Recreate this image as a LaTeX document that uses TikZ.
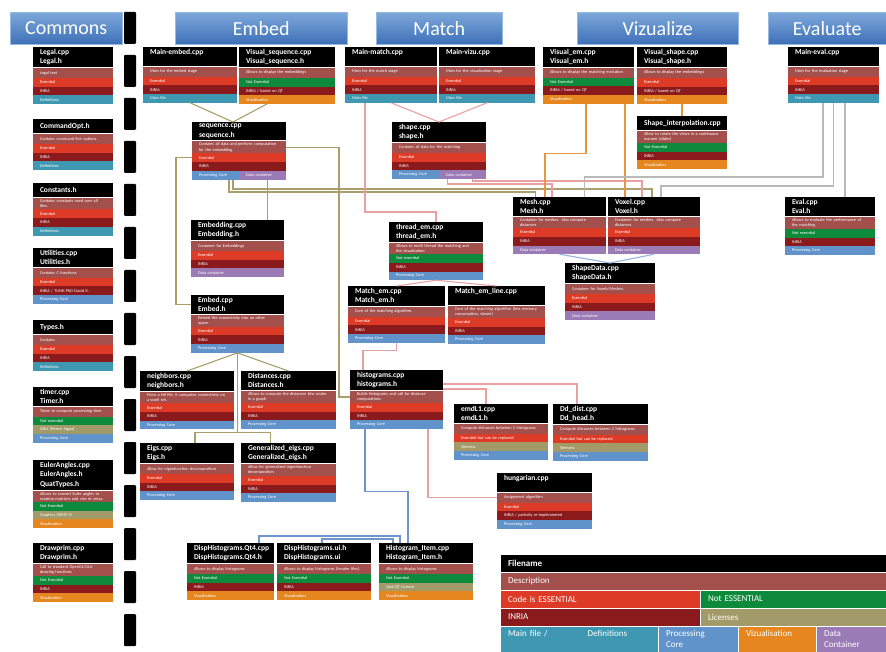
\documentclass[tikz,border=0pt]{standalone}
\usepackage{fontspec}
\setmainfont{Carlito}
\hyphenpenalty=10000
\exhyphenpenalty=10000

\definecolor{cdesc}{RGB}{163,80,77}
\definecolor{cess}{RGB}{222,59,38}
\definecolor{cnot}{RGB}{14,138,60}
\definecolor{cinria}{RGB}{138,26,28}
\definecolor{clic}{RGB}{162,154,104}
\definecolor{cmain}{RGB}{63,152,178}
\definecolor{ccore}{RGB}{97,147,203}
\definecolor{cviz}{RGB}{229,134,30}
\definecolor{cdata}{RGB}{155,123,182}
\definecolor{wembed}{RGB}{170,158,108}
\definecolor{wmatch}{RGB}{232,160,160}
\definecolor{wviz}{RGB}{232,150,70}
\definecolor{weval}{RGB}{185,185,185}
\definecolor{wshape}{RGB}{150,180,225}
\definecolor{whist}{RGB}{110,150,205}

\tikzset{
  banner/.style={anchor=north west, top color={rgb,255:red,125;green,168;blue,218},
    bottom color={rgb,255:red,62;green,112;blue,184}, draw={rgb,255:red,150;green,185;blue,225},
    text=white, font=\fontsize{20}{24}\selectfont, minimum height=32pt, inner sep=0pt},
  filehead/.style={anchor=north west, fill=black, text=white, align=left,
    font=\fontsize{7.5}{9.8}\selectfont\bfseries, inner xsep=7pt, inner ysep=1.8pt,
    minimum height=14pt, outer sep=0pt},
  filedesc/.style={anchor=north west, fill=cdesc, text=white, align=left,
    font=\fontsize{4.3}{5.2}\selectfont, inner xsep=7pt, inner ysep=1.6pt,
    minimum height=10pt, outer sep=0pt},
  filerow/.style={anchor=north west, text=white, align=left,
    font=\fontsize{4.3}{5.2}\selectfont, inner xsep=7pt, inner ysep=0pt,
    minimum height=8.7pt, outer sep=0pt},
  legcell/.style={anchor=north west, text=white, align=left, draw=white, line width=0.6pt,
    font=\fontsize{9}{11}\selectfont, inner xsep=8pt, inner ysep=3pt, outer sep=0pt},
  wire/.style={draw=#1, line width=1.1pt}
}

% one source file: name, x, y, width, header, description, rows
\newcommand{\srcfile}[7]{%
  \pgfmathsetlengthmacro{\tw}{#4pt-14pt}%
  \node[filehead, text width=\tw] (#1) at (#2,#3) {#5};
  \node[filedesc, text width=\tw] (#1-0) at ([yshift=-1pt]#1.south west) {#6};
  \foreach \rowc/\rowt [count=\rowno, remember=\rowno as \prevno (initially 0)] in {#7}
    \node[filerow, fill=\rowc, text width=\tw] (#1-\rowno) at (#1-\prevno.south west) {\rowt};
}

\begin{document}
\begin{tikzpicture}[x=1pt, y=-1pt]
  \fill[white] (0,0) rectangle (886,652);
  \useasboundingbox (0,0) rectangle (886,652);

  % stage banners
  \node[banner, minimum width=112pt] (bcommons) at (10,12) {Commons};
  \node[banner, minimum width=172pt] (bembed) at (175,12) {Embed};
  \node[banner, minimum width=126pt] (bmatch) at (376,12) {Match};
  \node[banner, minimum width=161pt] (bviz) at (577,12) {Vizualize};
  \node[banner, minimum width=118pt] (beval) at (768,12) {Evaluate};
  \foreach \k in {0,...,14}
    \fill[rounded corners=1pt] (124,{12+43*\k}) rectangle ++(12,32);

  % commons
  \srcfile{legal}{33}{47}{80}{Legal.cpp\\Legal.h}{Legal text}{cess/Essential, cinria/INRIA, cmain/Definitions}
  \srcfile{cmdopt}{33}{119}{80}{CommandOpt.h}{Contains command line options.}{cess/Essential, cinria/INRIA, cmain/Definitions}
  \srcfile{consts}{33}{183}{80}{Constants.h}{Contains constants used over all files.}{cess/Essential, cinria/INRIA, cmain/Definitions}
  \srcfile{utils}{33}{248}{80}{Utilities.cpp\\Utilities.h}{Contains C functions}{cess/Essential, cinria/{INRIA / TUHH PhD David K.}, ccore/Processing Core}
  \srcfile{types}{33}{320}{80}{Types.h}{Contains}{cess/Essential, cinria/INRIA, cmain/Definitions}
  \srcfile{timer}{33}{387}{80}{timer.cpp\\Timer.h}{Timer to compute processing time}{cnot/Not essential, clic/{GNU (Hence Jagoa)}, ccore/Processing Core}
  \srcfile{euler}{33}{460}{80}{EulerAngles.cpp\\EulerAngles.h\\QuatTypes.h}{Allows to convert Euler angles to rotation matrices and vice et versa.}{cnot/Not Essential, clic/Graphics GEMS IV, cviz/Visualization}
  \srcfile{dprim}{33}{543}{80}{Drawprim.cpp\\Drawprim.h}{Call to standard OpenGL/GLU drawing functions}{cnot/Not Essential, cinria/INRIA, cviz/Visualization}

  % mains and top row
  \srcfile{membed}{143}{47}{94}{Main-embed.cpp\\\mbox{}}{Main for the embed stage}{cess/Essential, cinria/INRIA, cmain/Main file}
  \srcfile{vseq}{239}{47}{96}{Visual\_sequence.cpp\\Visual\_sequence.h}{Allows to display the embeddings}{cnot/Not Essential, cinria/{INRIA / based on QT}, cviz/Visualization}
  \srcfile{mmatch}{345}{47}{92}{Main-match.cpp\\\mbox{}}{Main for the match stage}{cess/Essential, cinria/INRIA, cmain/Main file}
  \srcfile{mvizu}{439}{47}{96}{Main-vizu.cpp\\\mbox{}}{Main for the visualization stage}{cess/Essential, cinria/INRIA, cmain/Main file}
  \srcfile{vem}{543}{47}{91}{Visual\_em.cpp\\Visual\_em.h}{Allows to display the matching evolution}{cnot/Not Essential, cinria/{INRIA / based on QT}, cviz/Visualization}
  \srcfile{vshape}{637}{47}{90}{Visual\_shape.cpp\\Visual\_shape.h}{Allows to display the embeddings}{cess/Essential, cinria/{INRIA / based on QT}, cviz/Visualization}
  \srcfile{sinterp}{637}{116}{90}{Shape\_interpolation.cpp}{Allow to rotate the views in a continuous manner (slides)}{cnot/Not Essential, cinria/INRIA, cviz/Visualization}
  \srcfile{meval}{788}{47}{91}{Main-eval.cpp\\\mbox{}}{Main for the evaluation stage}{cess/Essential, cinria/INRIA, cmain/Main file}
  \srcfile{eval}{785}{197}{90}{Eval.cpp\\Eval.h}{Allows to evaluate the performance of the matching}{cnot/Not essential, cinria/INRIA, ccore/Processing Core}

  % core files
  \srcfile{seq}{192}{122}{94}{sequence.cpp\\sequence.h}{Contains all data and perform computation for the embedding}{cess/Essential, cinria/INRIA, ccore/Processing Core}
  \node[filerow, fill=cdata, text width=33pt, anchor=north east] (seqdc) at (seq-3.north east) {Data container};
  \srcfile{shape}{392}{122}{94}{shape.cpp\\shape.h}{Contains all data for the matching}{cess/Essential, cinria/INRIA, ccore/Processing Core}
  \node[filerow, fill=cdata, text width=33pt, anchor=north east] (shapedc) at (shape-3.north east) {Data container};
  \srcfile{emb}{191}{220}{93}{Embedding.cpp\\Embedding.h}{Container for Embeddings}{cess/Essential, cinria/INRIA, cdata/Data container}
  \srcfile{embed}{191}{295}{93}{Embed.cpp\\Embed.h}{Embed the connectivity into an other space.}{cess/Essential, cinria/INRIA, ccore/Processing Core}
  \srcfile{thread}{389}{222}{94}{thread\_em.cpp\\thread\_em.h}{Allows to multi thread the matching and the visualization}{cnot/Not essential, cinria/INRIA, ccore/Processing Core}
  \srcfile{mem}{348}{286}{97}{Match\_em.cpp\\Match\_em.h}{Core of the matching algorithm.}{cess/Essential, cinria/INRIA, ccore/Processing Core}
  \srcfile{meml}{448}{286}{97}{Match\_em\_line.cpp\\\mbox{}}{Core of the matching algorithm (less memory consumption, slower)}{cess/Essential, cinria/INRIA, ccore/Processing Core}
  \srcfile{mesh}{513}{197}{93}{Mesh.cpp\\Mesh.h}{Container for meshes. Also compute distances.}{cess/Essential, cinria/INRIA, cdata/Data container}
  \srcfile{voxel}{608}{197}{92}{Voxel.cpp\\Voxel.h}{Container for meshes. Also compute distances.}{cess/Essential, cinria/INRIA, cdata/Data container}
  \srcfile{sdata}{565}{263}{90}{ShapeData.cpp\\ShapeData.h}{Container for Voxels/Meshes}{cess/Essential, cinria/INRIA, cdata/Data container}
  \srcfile{neigh}{140}{371}{94}{neighbors.cpp\\neighbors.h}{From a NII file, it computes connectivity on a voxel set.}{cess/Essential, cinria/INRIA, ccore/Processing Core}
  \srcfile{dist}{241}{371}{95}{Distances.cpp\\Distances.h}{Allows to compute the distances btw nodes in a graph}{cess/Essential, cinria/INRIA, ccore/Processing Core}
  \srcfile{hist}{350}{370}{93}{histograms.cpp\\histograms.h}{Builds histograms and call for distance computations}{cess/Essential, cinria/INRIA, ccore/Processing Core}
  \srcfile{eigs}{140}{443}{94}{Eigs.cpp\\Eigs.h}{Allow for eigenfunction decomposition}{cess/Essential, cinria/INRIA, ccore/Processing Core}
  \srcfile{geigs}{241}{443}{95}{Generalized\_eigs.cpp\\Generalized\_eigs.h}{Allow for generalized eigenfunction decomposition}{cess/Essential, cinria/INRIA, ccore/Processing Core}
  \srcfile{emd}{454}{404}{94}{emdL1.cpp\\emdL1.h}{Compute distances between 2 histograms}{cess/Essential but can be replaced, clic/Siemens, ccore/Processing Core}
  \srcfile{dd}{553}{404}{95}{Dd\_dist.cpp\\Dd\_head.h}{Compute distances between 2 histograms}{cess/Essential but can be replaced, clic/Siemens, ccore/Processing Core}
  \srcfile{hung}{497}{473}{95}{hungarian.cpp\\\mbox{}}{Assignment algorithm}{cess/Essential, cinria/{INRIA / partially re-implemented}, ccore/Processing Core}
  \srcfile{dqt}{187}{543}{87}{DispHistograms.Qt4.cpp\\DispHistograms.Qt4.h}{Allows to display histograms}{cnot/Not Essential, cinria/INRIA, cviz/Visualization}
  \srcfile{dui}{277}{543}{94}{DispHistograms.ui.h\\DispHistograms.ui}{Allows to display histograms (header files)}{cnot/Not Essential, cinria/INRIA, cviz/Visualization}
  \srcfile{hitem}{379}{543}{94}{Histogram\_Item.cpp\\Histogram\_Item.h}{Allows to display histograms}{cnot/Not Essential, clic/{Qwt/QT License}, cviz/Visualization}

  % embed links
  \draw[wire=wembed] (membed-3.south) -- ([xshift=-6pt]seq.north);
  \draw[wire=wembed] ([xshift=-20pt]vseq-3.south) -- ([xshift=-6pt]seq.north);
  \draw[wire=wembed] (seq-1.west) -- ++(-16,0) |- (embed.west);
  \coordinate (sdc) at ([xshift=5pt]seqdc.south);
  \draw[wire=wembed] (sdc) -- (sdc |- emb.north);
  \draw[wire=wembed] (seq-0.east) -- ++(53,0) |- (hist-0.west);
  \draw[wire=wembed] ([xshift=-10pt]seq-3.south) |- ([xshift=-24pt,yshift=5pt]mesh.north) -- ([xshift=-24pt]mesh.north);
  \draw[wire=wembed] ([xshift=-6pt]seq-3.south) |- ([xshift=-2pt,yshift=8pt]voxel.north) -- ([xshift=-2pt]voxel.north);
  \draw[wire=wembed] (embed-3.south) -- (neigh.north);
  \draw[wire=wembed] (embed-3.south) -- (dist.north);
  \coordinate (esplit) at ([yshift=-80pt]embed-3.south);
  \draw[wire=wembed] (embed-3.south) -- (esplit);
  \draw[wire=wembed] ([xshift=8pt]eigs.north) |- (esplit) -| ([xshift=-18pt]geigs.north);

  % match links
  \draw[wire=wmatch] (mmatch-3.south) -- (shape.north);
  \draw[wire=wmatch] (mvizu-3.south) -- (shape.north);
  \draw[wire=wmatch] ([xshift=20pt]mmatch-3.south west) |- ([yshift=10pt]thread.north) -- (thread.north);
  \draw[wire=wmatch] ([xshift=-15pt]shapedc.south) |- ([xshift=-7.5pt,yshift=13pt]mesh.north) -- ([xshift=-7.5pt]mesh.north);
  \draw[wire=wmatch] ([xshift=10pt]shapedc.south) |- ([xshift=-12pt,yshift=16pt]voxel.north) -- ([xshift=-12pt]voxel.north);
  \draw[wire=wmatch] (thread-3.south) -- (mem.north);
  \draw[wire=wmatch] (thread-3.south) -- (meml.north);
  \draw[wire=wmatch] (mem-3.south) -- ++(0,8) -| ([xshift=-33.5pt]hist.north);
  \draw[wire=wmatch] ([yshift=-4pt]hist.east) -| ([xshift=-23.5pt]dd.north);
  \draw[wire=wmatch] ([yshift=-9pt]hist.east) -| ([xshift=-15pt]emd.north);
  \draw[wire=wmatch] ([xshift=31.5pt]hist-3.south) |- (hung-0.west);

  % vizualize links
  \draw[wire=wviz] ([xshift=-2.5pt]vem-3.south) -- ++(0,50) -| ([xshift=-14.5pt]mesh.north);
  \draw[wire=wviz] ([xshift=36.5pt]vem-3.south) -- ([xshift=-29pt]voxel.north);
  \draw[wire=wviz] (vshape-3.south) -- (sinterp.north);

  % evaluate links
  \draw[wire=weval] ([xshift=-10.5pt]meval-3.south) |- ([xshift=25pt,yshift=20pt]mesh.north) -- ([xshift=25pt]mesh.north);
  \draw[wire=weval] (meval-3.south) |- ([xshift=7pt,yshift=11pt]voxel.north) -- ([xshift=7pt]voxel.north);
  \draw[wire=weval] ([xshift=11.5pt]meval-3.south) -- ([xshift=15pt]eval.north);

  \draw[wire=wshape] (mesh-3.south) -- (sdata.north);
  \draw[wire=wshape] (voxel-3.south) -- (sdata.north);

  \draw[wire=whist] ([xshift=-31.5pt]hist-3.south) -- ++(0,62) -| ([xshift=-18pt]hitem.north);
  \draw[wire=whist] ([xshift=28.5pt]dqt.north) -- ++(0,-7) -| ([xshift=-26pt]hitem.north);
  \draw[wire=whist] ([xshift=-2pt]dui.north) -- ++(0,-4) -| ([xshift=-33pt]hitem.north);

  % legend
  \node[legcell, fill=black, text width=370pt, minimum height=18pt, font=\fontsize{9}{11}\selectfont\bfseries] (lgname) at (500,554) {Filename};
  \node[legcell, fill=cdesc, text width=370pt, minimum height=18pt] (lgdesc) at (500,572) {Description};
  \node[legcell, fill=cess, text width=184pt, minimum height=18pt] (lgess) at (500,590) {Code is ESSENTIAL};
  \node[legcell, fill=cnot, text width=170pt, minimum height=18pt] (lgnot) at (700,590) {Not ESSENTIAL};
  \node[legcell, fill=cinria, text width=184pt, minimum height=18pt] (lginria) at (500,608) {INRIA};
  \node[legcell, fill=clic, text width=170pt, minimum height=18pt] (lglic) at (700,608) {Licenses};
  \node[legcell, fill=cmain, text width=142pt, minimum height=26pt] (lgmain) at (500,626) {Main file /\hspace{40pt}Definitions\\\mbox{}};
  \node[legcell, fill=ccore, text width=64pt, minimum height=26pt] (lgcore) at (658,626) {Processing\\Core};
  \node[legcell, fill=cviz, text width=62pt, minimum height=26pt] (lgviz) at (738,626) {Vizualisation\\\mbox{}};
  \node[legcell, fill=cdata, text width=54pt, minimum height=26pt] (lgdata) at (816,626) {Data\\Container};
\end{tikzpicture}
\end{document}
